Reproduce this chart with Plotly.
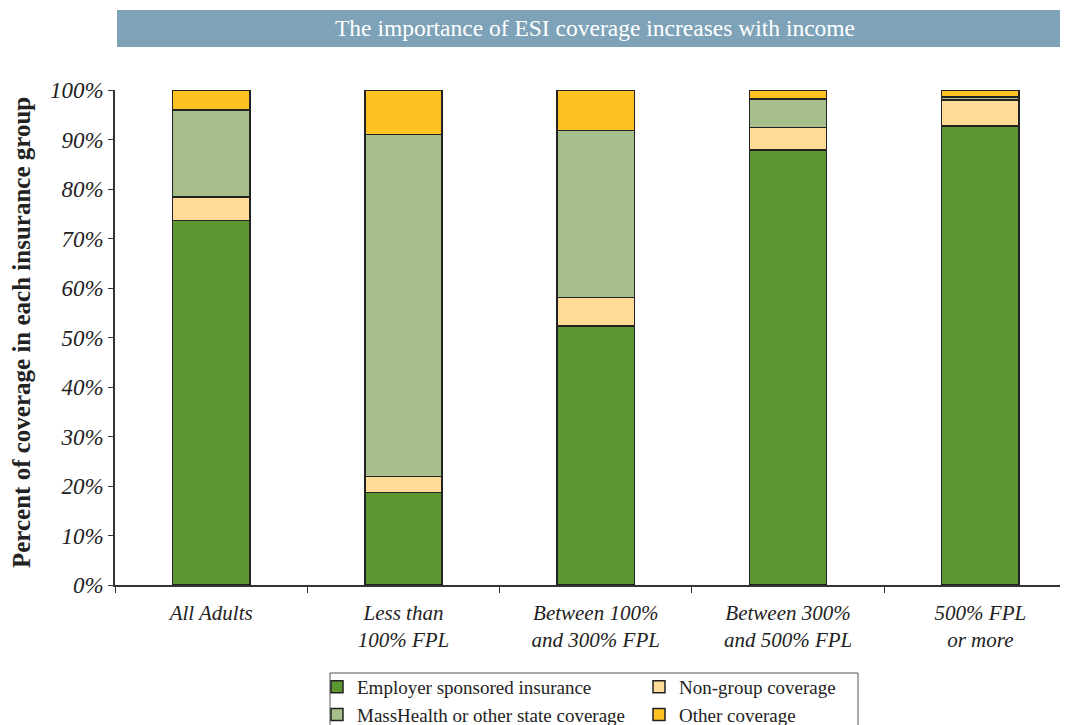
import plotly.graph_objects as go

categories = ["All Adults", "Less than<br>100% FPL", "Between 100%<br>and 300% FPL",
              "Between 300%<br>and 500% FPL", "500% FPL<br>or more"]
esi = [73.6, 18.7, 52.3, 87.9, 92.7]
non_group = [4.8, 3.2, 5.8, 4.5, 5.3]
masshealth = [17.6, 69.1, 33.7, 5.8, 0.6]
other = [4.0, 9.0, 8.2, 1.8, 1.4]

series = [
    ("Employer sponsored insurance", esi, "#5c9732", "legend"),
    ("Non-group coverage", non_group, "#ffdb98", "legend2"),
    ("MassHealth or other state coverage", masshealth, "#a7c08b", "legend"),
    ("Other coverage", other, "#fec321", "legend2"),
]

SERIF = "Liberation Serif"
fig = go.Figure()
for i, (name, vals, color, leg) in enumerate(series):
    fig.add_trace(go.Bar(
        x=categories, y=vals, name=name, legend=leg, legendgroup="g%d" % i,
        marker=dict(color=color, line=dict(color="#222222", width=1.5)),
        width=0.402,
    ))

# page has an 8px body margin; work in reference pixel coords, shifted by OFF
OFF = 8
W, H = 1068 - OFF, 725 - OFF
ml, mr = 115 - OFF, 0
plot_top, plot_bottom = 90 - OFF, 585 - OFF
mt, mb = plot_top, H - plot_bottom
pw = W - ml - mr
ph = H - mt - mb

def px(x):
    return (x - OFF - ml) / pw

def py(y):
    return (plot_bottom - (y - OFF)) / ph

fig.update_layout(
    width=W, height=H, barmode="stack",
    margin=dict(l=ml, r=mr, t=mt, b=mb, autoexpand=False),
    plot_bgcolor="white", paper_bgcolor="white",
    font=dict(family=SERIF, color="#222222"),
    xaxis=dict(range=[-0.5, -0.5 + pw / 192.3], tickson="boundaries", ticks="outside",
               ticklen=6, tickcolor="#333333", showline=True, linecolor="#333333",
               linewidth=1.5, ticklabelstandoff=8,
               tickfont=dict(size=21, family=SERIF, style="italic", color="#222222"),
               showgrid=False),
    yaxis=dict(range=[0, 100], dtick=10, ticksuffix="%", ticks="outside", ticklen=5,
               tickcolor="#333333", showline=True, linecolor="#333333", linewidth=1.5,
               showgrid=False, zeroline=False,
               tickfont=dict(size=23, family=SERIF, style="italic", color="#222222")),
    legend=dict(x=px(317), y=py(668), xanchor="left", yanchor="top", orientation="v",
                traceorder="normal", tracegroupgap=1, font=dict(size=19, family=SERIF, color="#222222"),
                bgcolor="rgba(0,0,0,0)"),
    legend2=dict(x=px(639), y=py(668), xanchor="left", yanchor="top", orientation="v",
                 traceorder="normal", tracegroupgap=1, font=dict(size=19, family=SERIF, color="#222222"),
                 bgcolor="rgba(0,0,0,0)"),
    shapes=[
        dict(type="rect", xref="paper", yref="paper", x0=px(117), x1=px(1075),
             y0=py(47), y1=py(10), fillcolor="#7ea2b8", line=dict(width=0), layer="below"),
        dict(type="rect", xref="paper", yref="paper", x0=px(330), x1=px(858),
             y0=py(740), y1=py(673), fillcolor="rgba(0,0,0,0)",
             line=dict(color="#555555", width=1)),
    ],
    annotations=[
        dict(text="The importance of ESI coverage increases with income", xref="paper", yref="paper",
             x=px(595), y=py(28.5), showarrow=False, xanchor="center", yanchor="middle",
             font=dict(size=23.5, family=SERIF, color="white")),
        dict(text="<b>Percent of coverage in each insurance group</b>", xref="paper", yref="paper",
             x=px(21), y=py(333), showarrow=False, textangle=-90, xanchor="center", yanchor="middle",
             font=dict(size=25, family=SERIF, color="#222222")),
    ],
)

fig.write_html("out.html")
